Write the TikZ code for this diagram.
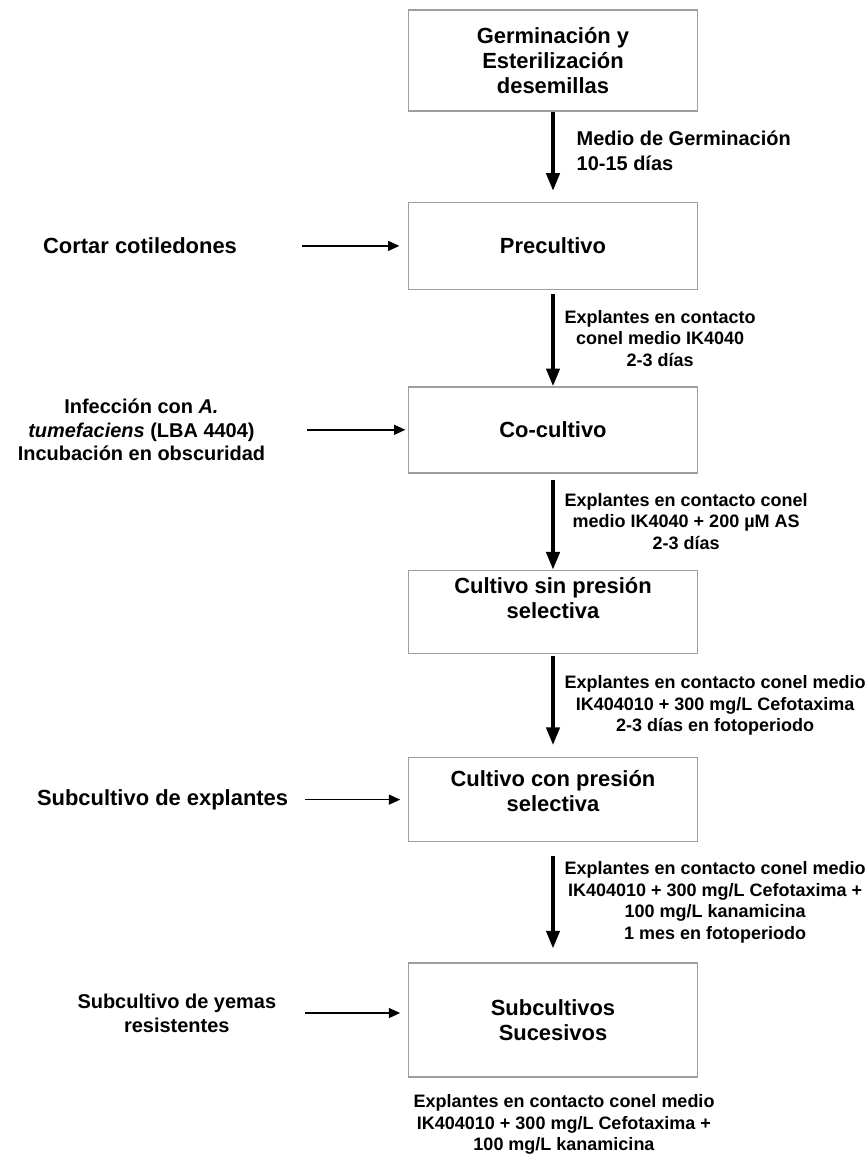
\documentclass[tikz,border=0pt]{standalone}
\usepackage{fontspec}
\setmainfont{Liberation Sans}
\usetikzlibrary{arrows.meta, positioning}

\begin{document}
\begin{tikzpicture}[
  box/.style = {draw=black!38, line width=1pt, minimum width=7.225cm, align=center, font=\fontsize{15.6pt}{17.8pt}\selectfont\bfseries},
  flow/.style = {line width=2.4pt, -{Triangle[length=12.5pt, width=9.5pt]}},
  feed/.style = {line width=1.1pt, -{Triangle[length=8pt, width=7pt]}},
  cond/.style = {font=\fontsize{12.8pt}{15.3pt}\selectfont\bfseries, midway, right, align=center, inner xsep=0.25cm},
  side/.style = {align=center, inner sep=0pt, font=\fontsize{14.2pt}{16.7pt}\selectfont\bfseries},
  sidebig/.style = {side, font=\fontsize{15.6pt}{17.8pt}\selectfont\bfseries},
  note/.style = {align=center, inner sep=0pt, font=\fontsize{12.8pt}{15.1pt}\selectfont\bfseries}
]

\useasboundingbox (0,0) rectangle (21.65,-28.925);

% Steps
\node[box, minimum height=2.525cm] (germ) at (13.825,-1.5125) {Germinación y\\Esterilización\\desemillas};
\node[box, minimum height=2.175cm, below=2.25cm of germ] (precult) {Precultivo};
\node[box, minimum height=2.15cm, below=2.4cm of precult] (cocult) {Co-cultivo};
\node[box, minimum height=2.075cm, text depth=0.7cm, below=2.4cm of cocult] (sinpres) {Cultivo sin presión\\selectiva};
\node[box, minimum height=2.1cm, text depth=0.45cm, below=2.575cm of sinpres] (conpres) {Cultivo con presión\\selectiva};
\node[box, minimum height=2.85cm, below=3.0cm of conpres] (sucesivos) {Subcultivos\\Sucesivos};

% Main flow
\draw[flow, shorten >=0.275cm] (germ) -- (precult) node[cond, align=left, xshift=0.3cm, yshift=0.15cm, font=\fontsize{14.2pt}{17.4pt}\selectfont\bfseries]{Medio de Germinación\\10-15 días};
\draw[flow, shorten <=0.1cm] (precult) -- (cocult) node[cond]{Explantes en contacto\\conel medio IK4040\\2-3 días};
\draw[flow, shorten <=0.15cm] (cocult) -- (sinpres) node[cond]{Explantes en contacto conel\\medio IK4040 + 200 µM AS\\2-3 días};
\draw[flow, shorten <=0.05cm, shorten >=0.3cm] (sinpres) -- (conpres) node[cond]{Explantes en contacto conel medio\\IK404010 + 300 mg/L Cefotaxima\\2-3 días en fotoperiodo};
\draw[flow, shorten <=0.35cm, shorten >=0.35cm] (conpres) -- (sucesivos) node[cond]{Explantes en contacto conel medio\\IK404010 + 300 mg/L Cefotaxima +\\100 mg/L kanamicina\\1 mes en fotoperiodo};

% Side inputs
\coordinate[left=2.64cm of precult.west] (cortar-in);
\coordinate[left=2.51cm of cocult.west] (infec-in);
\coordinate[left=2.56cm of conpres.west] (explant-in);
\coordinate[left=2.56cm of sucesivos.west, yshift=0.175cm] (yemas-in);

\node[sidebig, left=1.625cm of cortar-in] (cortar) {Cortar cotiledones};
\node[side, left=1.05cm of infec-in] (infec) {Infección con \textit{A.}\\\textit{tumefaciens} (LBA 4404)\\Incubación en obscuridad};
\node[sidebig, left=0.425cm of explant-in] (explant) {Subcultivo de explantes};
\node[side, left=0.725cm of yemas-in, text depth=0pt] (yemas) {Subcultivo de yemas\\resistentes};

\draw[feed, shorten >=0.21cm] (cortar-in) -- (precult);
\draw[feed, shorten >=0.06cm] (infec-in) -- (cocult);
\draw[feed, shorten >=0.19cm] (explant-in) -- (conpres);
\draw[feed, shorten >=0.19cm] (yemas-in) -- (yemas-in -| sucesivos.west);

% Final medium
\node[note, below=0.42cm of sucesivos, xshift=0.275cm] (final) {Explantes en contacto conel medio\\IK404010 + 300 mg/L Cefotaxima +\\100 mg/L kanamicina};

\end{tikzpicture}
\end{document}
